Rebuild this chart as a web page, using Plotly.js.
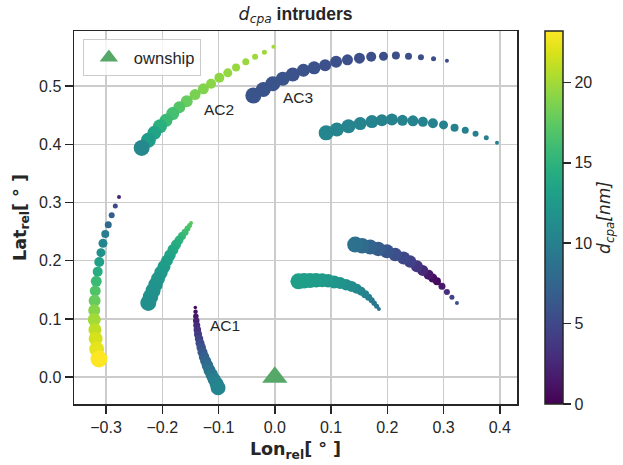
<!DOCTYPE html>
<html>
<head>
<meta charset="utf-8">
<script src="https://cdn.plot.ly/plotly-3.0.1.min.js"></script>
<style>html,body{margin:0;padding:0;background:#fff}</style>
</head>
<body>
<div id="chart" style="width:623px;height:465px"></div>
<script>
// ---- intruder trajectories (relative lon/lat in degrees), marker weight, d_cpa [nm] ----
const t1Lon = [-0.2770,-0.2836,-0.2900,-0.2961,-0.3014,-0.3055,-0.3091,-0.3121,-0.3149,-0.3174,-0.3192,-0.3203,-0.3210,-0.3210,-0.3198,-0.3185,-0.3167,-0.3126];
const t1Lat = [0.3096,0.2942,0.2780,0.2620,0.2460,0.2299,0.2139,0.1979,0.1813,0.1646,0.1481,0.1314,0.1148,0.0988,0.0816,0.0662,0.0485,0.0313];
const t1Weight = [4,5,6,7,8,9,9,10,10,11,11,12,12,13,13,14,15,17];
const t1Dcpa = [2.3,5,6.8,8,9.7,10.5,11.6,13.2,14.5,15.8,16.8,17.8,19,20,21,21.7,22.3,23.2];

const ac2Lon = [-0.0025,-0.0185,-0.0351,-0.0516,-0.0689,-0.0836,-0.0986,-0.1133,-0.1270,-0.1418,-0.1566,-0.1698,-0.1815,-0.1934,-0.2041,-0.2142,-0.2249,-0.2367];
const ac2Lat = [0.5674,0.5581,0.5502,0.5416,0.5318,0.5227,0.5141,0.5038,0.4952,0.4854,0.4739,0.4636,0.4527,0.4412,0.4309,0.4196,0.4069,0.3938];
const ac2Weight = [4,5,6,7,8,9,10,10,11,11,12,12,13,13,14,14,15,16];
const ac2Dcpa = [20,19.9,19.8,19.7,19.6,19.5,19.3,19.1,18.8,18.5,17.8,17,16.3,15.8,14.7,13.5,12.8,10.8];

const ac3Lon = [0.3060,0.2822,0.2598,0.2377,0.2153,0.1932,0.1714,0.1505,0.1292,0.1090,0.0895,0.0699,0.0509,0.0320,0.0142,-0.0036,-0.0203,-0.0381];
const ac3Lat = [0.5433,0.5467,0.5495,0.5512,0.5524,0.5512,0.5502,0.5478,0.5450,0.5416,0.5357,0.5313,0.5271,0.5198,0.5124,0.5038,0.4940,0.4837];
const ac3Weight = [4,5,6,7,8,9,10,11,11,12,12,13,13,14,14,15,15,16];
const ac3Dcpa = [5.4,5.4,5.5,5.5,5.5,5.6,5.6,5.6,5.7,5.7,5.7,5.8,5.8,5.8,5.9,5.9,6,6];

const t4Lon = [0.3950,0.3760,0.3569,0.3386,0.3196,0.3000,0.2811,0.2633,0.2456,0.2270,0.2082,0.1904,0.1726,0.1518,0.1310,0.1103,0.0913];
const t4Lat = [0.4024,0.4110,0.4179,0.4241,0.4282,0.4333,0.4361,0.4385,0.4402,0.4412,0.4424,0.4412,0.4390,0.4356,0.4309,0.4253,0.4196];
const t4Weight = [4,5,6,7,8,9,10,10,11,11,12,12,13,13,14,14,15];
const t4Dcpa = [10,10,10,10.1,10.1,10.1,10.2,10.2,10.2,10.3,10.3,10.3,10.4,10.4,10.4,10.5,10.5];

const t5Lon = [-0.1489,-0.1516,-0.1552,-0.1596,-0.1650,-0.1703,-0.1756,-0.1810,-0.1864,-0.1917,-0.1970,-0.2024,-0.2077,-0.2121,-0.2165,-0.2210,-0.2249];
const t5Lat = [0.2649,0.2603,0.2552,0.2491,0.2423,0.2354,0.2277,0.2191,0.2096,0.2002,0.1899,0.1796,0.1692,0.1589,0.1486,0.1383,0.1275];
const t5Weight = [4,5,6,7,8,9,10,11,11.5,12,13,13.5,14,14.5,15,15.5,16];
const t5Dcpa = [17.5,17,16.5,16,15.5,15,14.5,14,13.6,13.2,12.8,12.5,12.2,12,11.8,11.6,11.5];

const ac1Lon = [-0.1413,-0.1409,-0.1404,-0.1397,-0.1388,-0.1377,-0.1365,-0.1347,-0.1329,-0.1308,-0.1285,-0.1258,-0.1228,-0.1196,-0.1160,-0.1121,-0.1080,-0.1036,-0.1009];
const ac1Lat = [0.1199,0.1125,0.1048,0.0971,0.0893,0.0816,0.0739,0.0662,0.0584,0.0507,0.0430,0.0352,0.0275,0.0198,0.0120,0.0043,-0.0034,-0.0112,-0.0180];
const ac1Weight = [3.5,4.5,5.5,6.5,7,7.5,8,8.5,9,9.5,10,10.5,11,11.5,12,12.5,13,14,15];
const ac1Dcpa = [0.5,1,1.5,2.2,2.8,3.4,4,4.6,5.2,5.8,6.4,7,7.6,8.2,8.8,9.3,9.8,10.2,10.5];

const t7Lon = [0.1851,0.1811,0.1767,0.1722,0.1669,0.1607,0.1536,0.1456,0.1367,0.1268,0.1162,0.1055,0.0948,0.0842,0.0735,0.0628,0.0521,0.0420];
const t7Lat = [0.1172,0.1220,0.1271,0.1323,0.1375,0.1426,0.1478,0.1521,0.1558,0.1589,0.1617,0.1637,0.1655,0.1663,0.1665,0.1662,0.1655,0.1646];
const t7Weight = [4,5,5.5,6,7,8,9,10,11,11.5,12,13,13.5,14,14.5,15,15.5,16];
const t7Dcpa = [8.8,9,9.2,9.5,9.8,10.2,10.5,10.9,11.2,11.5,11.8,12.1,12.3,12.5,12.7,12.8,12.9,13];

const t8Lon = [0.3238,0.3149,0.3060,0.2972,0.2883,0.2808,0.2733,0.2630,0.2527,0.2407,0.2288,0.2141,0.1993,0.1838,0.1696,0.1553,0.1429];
const t8Lat = [0.1275,0.1371,0.1464,0.1560,0.1646,0.1704,0.1761,0.1833,0.1904,0.1985,0.2048,0.2108,0.2162,0.2203,0.2237,0.2259,0.2277];
const t8Weight = [4,5,6,7,8,9,10,11,12,12.5,13,13.5,14,14.5,15,15.5,16];
const t8Dcpa = [6,4.5,3,1.5,0.5,0.8,1.5,2.6,3.6,4.4,5,5.6,6.2,6.8,7.4,8,8.6];

const ownshipLon = [0.0];
const ownshipLat = [0.0];

const labelNames = ['AC1', 'AC2', 'AC3'];
const labelLon = [-0.118, -0.129, 0.011];
const labelLat = [0.0888, 0.4605, 0.4811];

const xTicks = [-0.3, -0.2, -0.1, 0.0, 0.1, 0.2, 0.3, 0.4];
const yTicks = [0.0, 0.1, 0.2, 0.3, 0.4, 0.5];
const cbTicks = [0, 5, 10, 15, 20];
const dcpaMin = 0, dcpaMax = 23.2;

// ---- build ----
const TXT = '#262626';
const MATH = "'DejaVu Sans'";
const intruders = [
  [t1Lon, t1Lat, t1Weight, t1Dcpa],
  [ac2Lon, ac2Lat, ac2Weight, ac2Dcpa],
  [ac3Lon, ac3Lat, ac3Weight, ac3Dcpa],
  [t4Lon, t4Lat, t4Weight, t4Dcpa],
  [t5Lon, t5Lat, t5Weight, t5Dcpa],
  [ac1Lon, ac1Lat, ac1Weight, ac1Dcpa],
  [t7Lon, t7Lat, t7Weight, t7Dcpa],
  [t8Lon, t8Lat, t8Weight, t8Dcpa]
];

const traces = intruders.map((d, i) => ({
  type: 'scatter', mode: 'markers',
  x: d[0], y: d[1],
  showlegend: false, hoverinfo: 'skip',
  marker: {
    size: d[2], color: d[3], colorscale: 'Viridis', cmin: dcpaMin, cmax: dcpaMax,
    opacity: 1, line: {width: 0},
    showscale: i === 0,
    colorbar: {
      x: 1.0632, xanchor: 'left', xpad: 0, ypad: 0,
      y: 0.5, yanchor: 'middle', len: 1, lenmode: 'fraction',
      thickness: 18, thicknessmode: 'pixels',
      outlinewidth: 1.5, outlinecolor: TXT,
      tickvals: cbTicks, ticks: 'outside', ticklen: 8, tickwidth: 1.5, tickcolor: TXT,
      tickfont: {family: 'Liberation Sans, Arial, sans-serif', size: 16, color: TXT},
      title: {
        text: '<i>d<sub>cpa</sub>[nm]</i>', side: 'right',
        font: {family: 'DejaVu Sans', size: 17, color: TXT}
      }
    }
  }
}));

traces.push({
  type: 'scatter', mode: 'markers', name: 'ownship',
  x: ownshipLon, y: ownshipLat, hoverinfo: 'skip',
  marker: {symbol: 'triangle-up', size: 22, color: '#55a868', line: {width: 0}}
});

const axisCommon = {
  showline: true, linecolor: TXT, linewidth: 1.5, mirror: true,
  ticks: 'outside', ticklen: 8, tickwidth: 1.5, tickcolor: TXT,
  showgrid: true, gridcolor: '#cccccc', gridwidth: 1.5, zeroline: false,
  tickformat: '.1f',
  tickfont: {family: 'Liberation Sans, Arial, sans-serif', size: 16, color: TXT}
};

const layout = {
  width: 623, height: 465,
  margin: {l: 74, r: 106, t: 31, b: 61, pad: 0, autoexpand: false},
  paper_bgcolor: '#ffffff', plot_bgcolor: '#ffffff',
  font: {family: 'Liberation Sans, Arial, sans-serif', color: TXT},
  title: {
    text: '<span style="font-family:' + MATH + '"><i>d<sub>cpa</sub></i></span> <b>intruders</b>',
    x: 0.5, xref: 'paper', xanchor: 'center',
    y: 0.971, yref: 'container', yanchor: 'middle',
    font: {family: 'Liberation Sans, Arial, sans-serif', size: 17.5, color: TXT}
  },
  xaxis: Object.assign({}, axisCommon, {
    range: [-0.357, 0.4306], tickvals: xTicks, automargin: false,
    title: {text: '<b>Lon<sub>rel</sub>[ ° ]</b>', standoff: 8,
      font: {family: 'DejaVu Sans', size: 17.5, color: TXT}}
  }),
  yaxis: Object.assign({}, axisCommon, {
    range: [-0.046, 0.5945], tickvals: yTicks, automargin: false,
    title: {text: '<b>Lat<sub>rel</sub>[ ° ]</b>', standoff: 8,
      font: {family: 'DejaVu Sans', size: 17.5, color: TXT}}
  }),
  showlegend: true,
  legend: {
    x: 0.02, y: 0.978, xanchor: 'left', yanchor: 'top',
    bgcolor: 'rgba(255,255,255,0.8)', bordercolor: '#cccccc', borderwidth: 1,
    font: {family: 'Liberation Sans, Arial, sans-serif', size: 16.5, color: TXT},
    itemwidth: 40
  },
  annotations: labelNames.map((t, i) => ({
    x: labelLon[i], y: labelLat[i], xref: 'x', yref: 'y',
    text: t, showarrow: false, xanchor: 'left', yanchor: 'middle',
    font: {family: 'Liberation Sans, Arial, sans-serif', size: 15.5, color: TXT}
  }))
};

Plotly.newPlot('chart', traces, layout, {displayModeBar: false, staticPlot: true});
</script>
</body>
</html>
